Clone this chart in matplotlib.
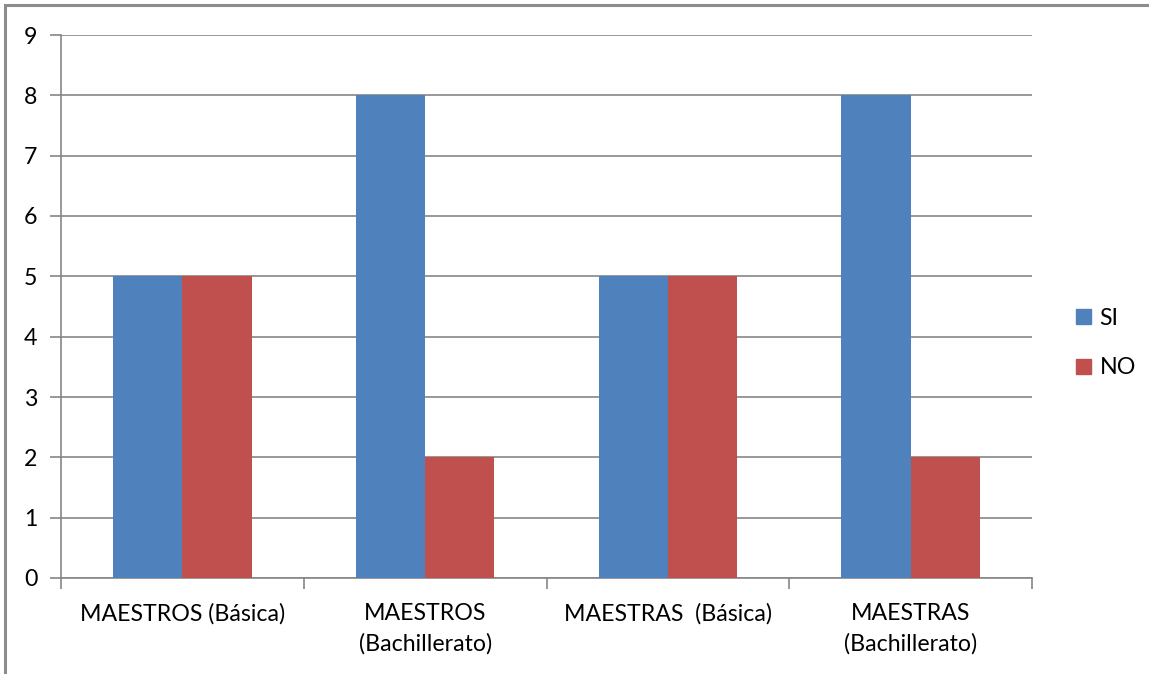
import matplotlib
matplotlib.use("Agg")
import matplotlib.pyplot as plt
import numpy as np
from matplotlib.patches import Rectangle, Patch

categories = ["MAESTROS (Básica)", "MAESTROS\n(Bachillerato)", "MAESTRAS  (Básica)", "MAESTRAS\n(Bachillerato)"]
si_values = [5, 8, 5, 8]
no_values = [5, 2, 5, 2]
series_names = ["SI", "NO"]
yticks = list(range(0, 10))

plt.rcParams['font.family'] = ['Lato', 'DejaVu Sans']
FS = 16.7

W, H = 1149, 674
fig = plt.figure(figsize=(W/100, H/100), dpi=100)
ax = fig.add_axes([61/W, 1-578/H, (1032-61)/W, (578-35)/H])

x = np.arange(len(categories))
bw = 0.285
blue = "#4F81BD"
red = "#C0504D"
ax.bar(x - bw/2, si_values, bw, color=blue, zorder=3, label=series_names[0])
ax.bar(x + bw/2, no_values, bw, color=red, zorder=3, label=series_names[1])

ax.set_xlim(-0.5, len(categories) - 0.5)
ax.set_ylim(0, 9)
ax.set_yticks(yticks)
ax.yaxis.grid(True, color="#868686", linewidth=1.2, zorder=0)
ax.set_axisbelow(True)

gc = "#868686"
for s in ["top", "right"]:
    ax.spines[s].set_visible(False)
ax.spines["left"].set_color(gc)
ax.spines["bottom"].set_color(gc)
ax.spines["left"].set_linewidth(1.2)
ax.spines["bottom"].set_linewidth(1.2)

ax.set_xticks(np.arange(len(categories) + 1) - 0.5, minor=False)
ax.set_xticklabels([])
ax.tick_params(axis="x", which="major", length=8, color=gc, width=1.2)
ax.set_xticks(x, minor=True)
ax.set_xticklabels(categories, minor=True, fontsize=FS, linespacing=1.5)
ax.tick_params(axis="x", which="minor", length=0, pad=18)
ax.tick_params(axis="y", length=8, color=gc, width=1.2, labelsize=FS, pad=9)

handles = [Patch(color=blue, label="SI"), Patch(color=red, label="NO")]
fig.legend(handles=handles, loc="center left", bbox_to_anchor=(1060/W, 1-343/H),
           frameon=False, fontsize=FS, handlelength=0.65, handleheight=0.65,
           labelspacing=1.25, handletextpad=0.35, borderpad=0.2)

fig.patches.append(Rectangle((5/W, -0.1), 1.2, 1-5/H+0.1, transform=fig.transFigure,
                             fill=False, edgecolor="#8C8C8C", linewidth=2.2, clip_on=False))

fig.savefig("out.png", dpi=100)
